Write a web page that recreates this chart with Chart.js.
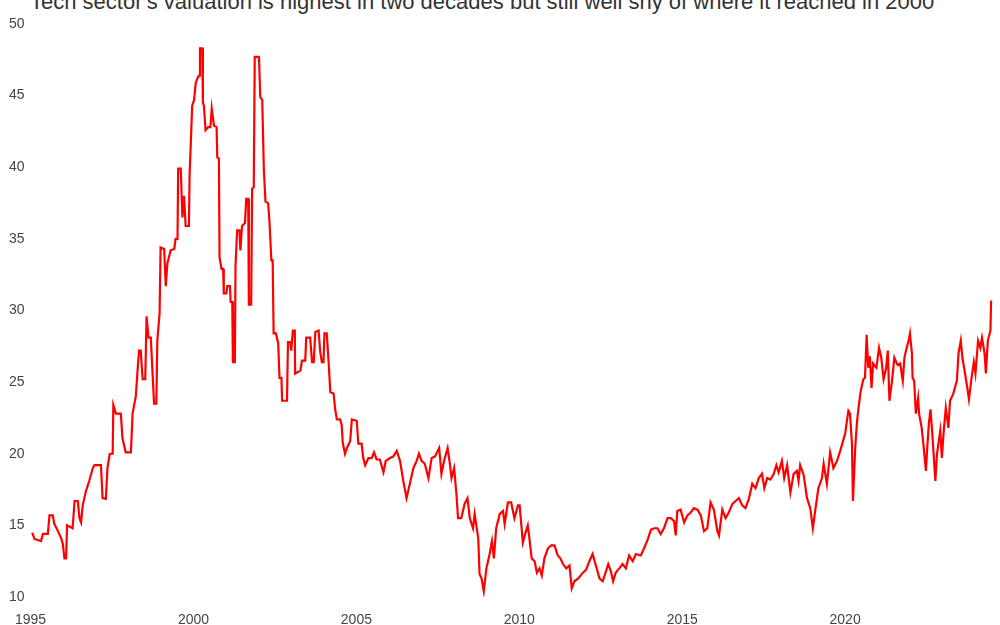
<!DOCTYPE html>
<html>
<head>
<meta charset="utf-8">
<script src="https://cdn.jsdelivr.net/npm/chart.js@4"></script>
<style>
  html, body { margin: 0; padding: 0; background: #fff; overflow: hidden; }
  body { width: 1000px; height: 625px; position: relative; }
  #title { position: absolute; left: 30px; top: -9px; font: 22px "Liberation Sans", Arial, sans-serif;
           line-height: 22px; color: #333; white-space: nowrap; }
  #wrap { position: absolute; left: 0; top: 0; width: 1000px; height: 640px; }
</style>
</head>
<body>
<div id="title">Tech sector's valuation is highest in two decades but still well shy of where it reached in 2000</div>
<div id="wrap"><canvas id="chart"></canvas></div>
<script>
// tick labels
const xTicks = [1995, 2000, 2005, 2010, 2015, 2020];
const yTicks = [10, 15, 20, 25, 30, 35, 40, 45, 50];

// forward P/E (decimal year, value)
const years95 = [1995.05,1995.12,1995.32,1995.38,1995.53,1995.58,1995.68,1995.73,1995.84,1995.94,1995.99,
  1996.04,1996.09,1996.12,1996.29,1996.35,1996.45,1996.50,1996.55,1996.60,1996.70,1996.80,1996.91,1996.96,
  1997.16,1997.21,1997.31,1997.36,1997.43,1997.52,1997.54,1997.62,1997.77,1997.82,1997.92,
  1998.08,1998.13,1998.23,1998.28,1998.33,1998.38,1998.44,1998.52,1998.56,1998.62,1998.69,1998.74,1998.79,1998.86,1998.89,1998.96,1998.99,
  1999.10,1999.15,1999.20,1999.30,1999.41,1999.45,1999.51,1999.53,1999.61,1999.66,1999.71,1999.76,1999.86,1999.88,1999.96];
const pe95 = [14.5,14.05,13.9,14.4,14.4,15.7,15.7,15.1,14.6,14.1,13.7,
  12.7,12.7,15.0,14.8,16.7,16.7,15.5,15.2,16.4,17.4,18.1,19.0,19.2,
  19.2,16.9,16.85,19.0,20.0,20.0,23.4,22.8,22.8,21.1,20.1,
  20.1,22.8,24.0,25.7,27.2,27.2,25.2,25.2,29.6,28.1,28.1,25.8,23.5,23.5,27.9,29.8,34.4,
  34.3,31.7,33.3,34.2,34.3,35.0,35.0,39.9,39.9,36.5,38.0,35.9,35.9,39.4,44.3];

const years00 = [2000.02,2000.07,2000.12,2000.17,2000.20,2000.27,2000.29,2000.32,2000.37,2000.45,2000.52,2000.56,2000.63,2000.71,2000.73,2000.78,2000.80,2000.86,2000.91,2000.93,
  2001.01,2001.04,2001.12,2001.14,2001.19,2001.21,2001.27,2001.29,2001.34,2001.41,2001.44,2001.49,2001.58,2001.62,2001.68,2001.70,2001.77,2001.80,2001.85,2001.88,
  2002.01,2002.05,2002.11,2002.16,2002.21,2002.29,2002.33,2002.39,2002.43,2002.46,2002.53,2002.60,2002.64,2002.70,2002.72,2002.87,2002.90,2002.97,
  2003.00,2003.05,2003.11,2003.12,2003.28,2003.33,2003.43,2003.46,2003.58,2003.64,2003.69,2003.74,2003.84,2003.89,2003.94,2003.99,
  2004.02,2004.09,2004.15,2004.20,2004.30,2004.35,2004.40,2004.50,2004.55,2004.58,2004.65,2004.71,2004.81,2004.86];
const pe00 = [44.7,45.9,46.2,46.4,48.3,48.3,44.5,44.3,42.6,42.8,42.8,44.1,42.9,42.8,40.7,40.6,33.7,32.9,32.9,31.2,
  31.2,31.7,31.7,30.6,30.6,26.4,26.4,33.1,35.6,35.6,34.2,35.9,36.1,37.8,37.8,30.4,30.4,38.5,38.6,47.7,
  47.7,44.9,44.7,39.8,37.6,37.5,36.3,33.5,33.5,28.4,28.4,27.7,25.3,25.3,23.7,23.7,27.8,27.8,
  27.2,28.6,28.6,25.6,25.8,26.5,26.5,28.1,28.1,26.4,26.4,28.5,28.6,27.1,26.4,26.4,
  28.4,28.4,26.3,24.3,24.2,23.1,22.4,22.4,22.0,20.8,20.0,20.4,20.9,22.4];

const years05 = [2005.01,2005.06,2005.16,2005.21,2005.27,2005.37,2005.47,2005.54,2005.62,2005.72,2005.83,2005.90,
  2006.03,2006.13,2006.24,2006.34,2006.44,2006.54,2006.64,2006.75,2006.85,2006.92,
  2007.00,2007.10,2007.21,2007.31,2007.41,2007.54,2007.61,2007.69,2007.80,2007.87,2007.92,
  2008.00,2008.07,2008.12,2008.22,2008.32,2008.41,2008.48,2008.58,2008.63,2008.74,2008.78,2008.84,2008.91,2008.99,
  2009.09,2009.16,2009.22,2009.29,2009.40,2009.50,2009.55,2009.65,2009.75,2009.85,2009.96];
const pe05 = [22.3,20.7,20.7,19.7,19.2,19.7,19.7,20.1,19.6,19.6,18.7,19.5,
  19.7,19.8,20.2,19.5,18.1,16.9,17.9,19.0,19.5,20.0,
  19.5,19.3,18.3,19.7,19.8,20.4,18.6,19.5,20.4,19.3,18.3,
  19.0,17.2,15.5,15.5,16.5,16.9,15.5,14.8,15.8,14.1,11.6,11.3,10.4,12.0,
  13.0,13.9,12.7,14.8,15.8,16.0,15.1,16.6,16.6,15.5,16.4];

const years10 = [2010.01,2010.11,2010.18,2010.26,2010.31,2010.38,2010.47,2010.54,2010.62,2010.69,2010.77,2010.88,2010.98,
  2011.08,2011.18,2011.26,2011.34,2011.44,2011.54,2011.61,2011.69,2011.81,2011.95,
  2012.05,2012.15,2012.25,2012.35,2012.46,2012.56,2012.66,2012.73,2012.81,2012.88,2012.96,
  2013.07,2013.17,2013.27,2013.37,2013.48,2013.58,2013.73,2013.83,2013.94,
  2014.04,2014.14,2014.24,2014.34,2014.44,2014.55,2014.65,2014.75,2014.80,2014.85,2014.95];
const pe10 = [16.4,13.8,14.4,15.0,14.1,12.7,12.5,11.7,12.0,11.5,12.7,13.4,13.6,
  13.6,12.9,12.7,12.3,12.0,12.2,10.6,11.1,11.3,11.7,
  11.9,12.5,13.0,12.2,11.3,11.1,11.8,12.3,11.8,11.1,11.7,
  12.0,12.3,12.0,12.9,12.5,13.0,12.9,13.4,14.0,
  14.7,14.8,14.8,14.4,14.8,15.5,15.5,15.3,14.3,16.0,16.1];

const years15 = [2015.06,2015.16,2015.26,2015.36,2015.47,2015.57,2015.67,2015.77,2015.87,2015.97,
  2016.08,2016.13,2016.23,2016.33,2016.43,2016.54,2016.64,2016.74,2016.84,2016.94,
  2017.04,2017.15,2017.25,2017.35,2017.45,2017.52,2017.61,2017.71,2017.81,2017.89,2017.96,
  2018.06,2018.13,2018.22,2018.32,2018.42,2018.52,2018.57,2018.62,2018.73,2018.83,2018.93,
  2019.01,2019.08,2019.18,2019.29,2019.34,2019.44,2019.54,2019.64,2019.75,2019.85,2019.95];
const pe15 = [15.2,15.7,15.9,16.2,16.1,15.7,14.6,14.8,16.6,16.1,
  14.6,14.3,16.1,15.5,15.9,16.5,16.7,16.9,16.4,16.2,
  16.8,17.9,17.6,18.3,18.6,17.6,18.3,18.2,18.6,19.2,18.7,
  19.5,18.3,19.2,17.3,18.6,18.8,18.1,19.2,18.5,16.9,16.2,
  14.8,16.0,17.6,18.3,19.3,17.9,20.1,19.0,19.5,20.2,21.0];

const years20 = [2020.00,2020.10,2020.15,2020.21,2020.24,2020.31,2020.36,2020.41,2020.48,2020.56,2020.61,2020.66,2020.71,2020.76,2020.81,2020.86,2020.96,
  2021.04,2021.11,2021.18,2021.26,2021.31,2021.36,2021.44,2021.51,2021.61,2021.69,2021.77,2021.82,2021.89,2021.95,2021.99,
  2022.05,2022.07,2022.12,2022.17,2022.24,2022.27,2022.35,2022.40,2022.48,2022.52,2022.57,2022.62,2022.67,2022.77,2022.82,2022.92,2022.97,
  2023.02,2023.09,2023.17,2023.22,2023.32,2023.43,2023.48,2023.55,2023.60,2023.68,2023.75,2023.80,2023.88,2023.95,
  2024.00,2024.08,2024.15,2024.20,2024.28,2024.32,2024.38,2024.46,2024.48];
const pe20 = [21.4,23.0,22.8,20.7,16.7,20.4,22.1,23.2,24.4,25.2,25.3,28.3,26.0,26.8,24.6,26.3,26.0,
  27.4,26.7,25.2,26.0,27.2,23.7,25.1,26.7,26.2,26.3,25.1,26.7,27.4,27.9,28.4,
  27.0,25.3,25.1,22.8,23.9,22.8,21.8,20.7,18.8,20.4,22.1,23.1,21.6,18.1,20.0,21.6,19.7,
  21.4,23.2,21.8,23.7,24.2,25.1,27.0,27.9,26.7,25.6,24.6,23.8,25.3,26.4,
  25.6,27.9,27.4,28.1,27.0,25.6,27.9,28.6,30.7];

const years = [...years95, ...years00, ...years05, ...years10, ...years15, ...years20];
const pe = [...pe95, ...pe00, ...pe05, ...pe10, ...pe15, ...pe20];
const points = years.map((x, i) => ({ x: x, y: pe[i] }));

const tickFont = { family: '"Liberation Sans", Arial, sans-serif', size: 14 };
const tickColor = "#444";

new Chart(document.getElementById("chart"), {
  type: "line",
  data: {
    datasets: [{
      data: points,
      borderColor: "#ff0000",
      borderWidth: 2.2,
      pointRadius: 0,
      tension: 0,
      fill: false
    }]
  },
  options: {
    responsive: true,
    maintainAspectRatio: false,
    animation: false,
    layout: { padding: { top: 24, right: 5, left: 0, bottom: 13 } },
    plugins: { legend: { display: false }, tooltip: { enabled: false } },
    scales: {
      x: {
        type: "linear",
        min: 1995,
        max: 2024.6,
        grid: { display: false, drawTicks: false },
        border: { display: false },
        afterBuildTicks: s => { s.ticks = xTicks.map(v => ({ value: v })); },
        afterFit: s => { s.height = 30; },
        ticks: { font: tickFont, color: tickColor, padding: 15, maxRotation: 0, autoSkip: false,
                 callback: v => String(v) }
      },
      y: {
        min: 10,
        max: 50,
        grid: { display: false, drawTicks: false },
        border: { display: false },
        afterBuildTicks: s => { s.ticks = yTicks.map(v => ({ value: v })); },
        afterFit: s => { s.width = 28; },
        ticks: { font: tickFont, color: tickColor, padding: 6, callback: v => String(v) }
      }
    }
  }
});
</script>
</body>
</html>
